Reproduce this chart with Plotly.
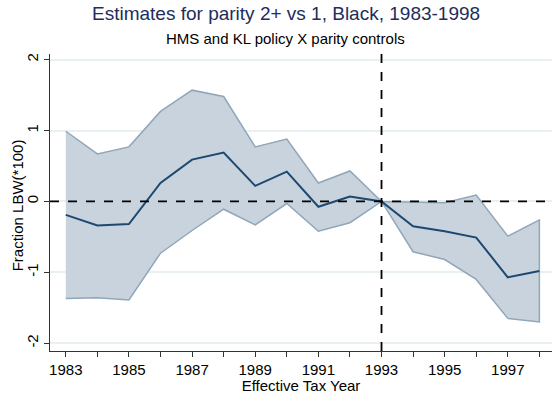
import plotly.graph_objects as go

# Event-study estimates with 95% confidence band
years = list(range(1983, 1999))
estimate = [-0.19, -0.34, -0.32, 0.26, 0.59, 0.69, 0.22, 0.42,
            -0.075, 0.07, 0.0, -0.35, -0.42, -0.51, -1.07, -0.98]
upper_ci = [0.99, 0.67, 0.77, 1.27, 1.57, 1.48, 0.77, 0.88,
            0.26, 0.43, 0.0, -0.005, -0.02, 0.09, -0.49, -0.26]
lower_ci = [-1.37, -1.36, -1.39, -0.73, -0.41, -0.11, -0.33, -0.03,
            -0.42, -0.30, 0.0, -0.71, -0.82, -1.10, -1.65, -1.70]

x_tick_vals = years
x_tick_text = [str(y) if y % 2 == 1 else "" for y in years]
y_tick_vals = [-2, -1, 0, 1, 2]
y_tick_text = ["-2", "-1", "0", "1", "2"]

policy_year = 1993

FONT = "Liberation Sans, Arial, sans-serif"
PLOT_W = 502
PLOT_H = 297

fig = go.Figure()

# Confidence band as one closed polygon (outline includes end edges)
fig.add_trace(go.Scatter(
    x=years + years[::-1],
    y=upper_ci + lower_ci[::-1],
    fill="toself",
    fillcolor="rgba(200,211,221,1)",
    line=dict(color="#91a6b9", width=1.5),
    mode="lines",
    hoverinfo="skip",
    showlegend=False,
))

# Point estimates
fig.add_trace(go.Scatter(
    x=years, y=estimate, mode="lines",
    line=dict(color="#1d4872", width=2),
    showlegend=False,
))

# Reference lines
fig.add_hline(y=0, line=dict(color="black", width=1.8, dash="dash"))
fig.add_vline(x=policy_year, line=dict(color="black", width=1.8, dash="dash"))

fig.update_layout(
    width=552, height=394,
    margin=dict(l=50, r=0, t=54, b=43),
    paper_bgcolor="white", plot_bgcolor="white",
    font=dict(family=FONT, color="black", size=15),
    showlegend=False,
)

fig.update_xaxes(
    range=[1982.5, 1998.4],
    tickmode="array", tickvals=x_tick_vals, ticktext=x_tick_text,
    ticks="outside", ticklen=5, tickwidth=1, tickcolor="#333333",
    showline=True, linecolor="#333333", linewidth=1,
    showgrid=False, zeroline=False,
    tickfont=dict(size=15),
    title=dict(text="Effective Tax Year", font=dict(size=15), standoff=1),
)

fig.update_yaxes(
    range=[-2.11, 2.08],
    tickmode="array", tickvals=y_tick_vals, ticktext=y_tick_text,
    tickangle=-90,
    ticks="outside", ticklen=5, tickwidth=1, tickcolor="#333333",
    showline=True, linecolor="#333333", linewidth=1,
    showgrid=True, gridcolor="#e8f0f2", gridwidth=1.5,
    zeroline=False,
    tickfont=dict(size=15),
)

# Y-axis title placed explicitly
fig.add_annotation(
    text="Fraction LBW(*100)", textangle=-90,
    xref="paper", yref="paper", x=(17 - 50) / PLOT_W, y=(350.7 - 205) / PLOT_H,
    showarrow=False, font=dict(size=15, color="black", family=FONT),
    xanchor="center", yanchor="middle",
)

fig.add_annotation(
    text="Estimates for parity 2+ vs 1, Black, 1983-1998",
    xref="paper", yref="paper", x=(286 - 50) / PLOT_W, y=1 + (54 - 14) / PLOT_H,
    showarrow=False, font=dict(size=19, color="#1e2d5c", family=FONT),
    xanchor="center", yanchor="middle",
)
fig.add_annotation(
    text="HMS and KL policy X parity controls",
    xref="paper", yref="paper", x=(285 - 50) / PLOT_W, y=1 + (54 - 38) / PLOT_H,
    showarrow=False, font=dict(size=15, color="black", family=FONT),
    xanchor="center", yanchor="middle",
)

fig.write_html("out.html")
